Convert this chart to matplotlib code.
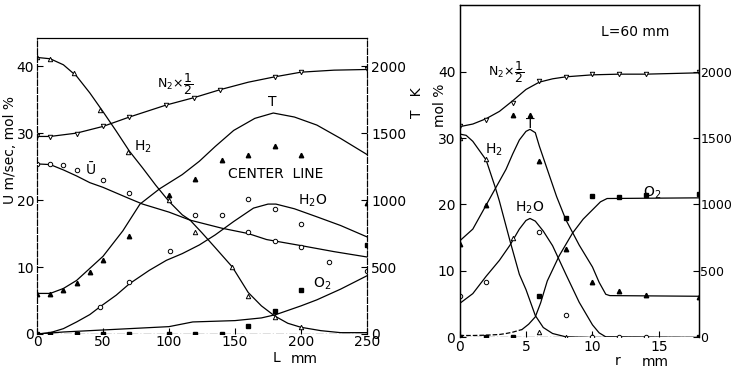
import numpy as np
import matplotlib
matplotlib.use("Agg")
import matplotlib.pyplot as plt

plt.rcParams['font.family'] = ['DejaVu Sans']
plt.rcParams['mathtext.default'] = 'regular'
plt.rcParams['font.size'] = 10

# ---- left panel: centre line, L mm ----
# curves
h2_L = [0, 10, 20, 30, 40, 50, 60, 70, 80, 90, 100, 110, 116, 125, 135, 148, 160, 170, 180, 190, 200, 215, 230, 250]
h2_v = [41.3, 41.1, 40.2, 38.5, 36.0, 33.2, 30.3, 27.3, 24.8, 22.2, 19.8, 17.8, 17.0, 15.1, 12.9, 10.0, 6.2, 4.2, 2.7, 1.6, 1.0, 0.5, 0.2, 0.2]
n2_L = [0, 10, 30, 50, 70, 98, 119, 139, 160, 180, 200, 225, 250]
n2_v = [29.5, 29.5, 30.0, 31.0, 32.4, 34.2, 35.3, 36.5, 37.6, 38.4, 39.1, 39.4, 39.5]
u_L = [0, 10, 20, 30, 40, 50, 69, 80, 100, 116, 140, 160, 174, 200, 225, 250]
u_v = [25.4, 25.3, 24.5, 23.6, 22.6, 21.9, 20.3, 19.4, 18.2, 17.0, 15.8, 15.0, 14.1, 13.2, 12.3, 11.5]
h2o_L = [0, 10, 20, 30, 40, 48, 60, 70, 85, 98, 110, 123, 135, 149, 164, 175, 181, 195, 212, 230, 250]
h2o_v = [0, 0.2, 0.8, 1.8, 2.9, 4.1, 5.8, 7.5, 9.5, 11.0, 12.0, 13.3, 14.8, 16.8, 18.8, 19.4, 19.4, 18.7, 17.5, 16.2, 14.5]
o2_L = [0, 20, 50, 100, 118, 150, 170, 181, 200, 212, 230, 250]
o2_v = [0, 0.3, 0.6, 1.1, 1.8, 2.0, 2.4, 2.9, 4.2, 5.1, 6.7, 8.7]
t_L = [0, 10, 20, 30, 40, 50, 65, 78, 93, 110, 123, 135, 149, 165, 179, 195, 212, 230, 250]
t_K = [303, 303, 340, 400, 490, 580, 770, 970, 1085, 1190, 1290, 1400, 1520, 1610, 1650, 1620, 1560, 1460, 1340]

# measured points
h2_pL = [0, 10, 28, 48, 69, 100, 120, 148, 160, 180, 200]
h2_pv = [41.3, 41.1, 39.0, 33.5, 27.2, 20.0, 15.2, 10.0, 5.6, 2.6, 1.1]
n2_pL = [0, 10, 30, 50, 70, 98, 119, 139, 180, 200, 250]
n2_pv = [29.5, 29.4, 29.9, 31.0, 32.4, 34.2, 35.3, 36.5, 38.4, 39.1, 39.6]
u_pL = [0, 10, 20, 30, 50, 70, 120, 140, 160, 180, 200]
u_pv = [25.4, 25.4, 25.2, 24.5, 23.0, 21.1, 17.8, 17.8, 15.3, 13.9, 13.0]
h2o_pL = [48, 70, 101, 160, 180, 200, 221, 250]
h2o_pv = [4.1, 7.8, 12.4, 20.2, 18.6, 16.5, 10.8, 9.4]
o2_pL = [0, 10, 30, 50, 70, 100, 120, 140, 160, 180, 200, 250]
o2_pv = [0, 0, 0, 0, 0, 0, 0, 0, 1.2, 3.4, 6.6, 13.3]
t_pL = [0, 10, 20, 30, 40, 50, 70, 100, 120, 140, 160, 180, 200, 250]
t_pK = [300, 300, 330, 380, 460, 555, 730, 1035, 1160, 1300, 1340, 1405, 1340, 975]

# ---- right panel: L = 60 mm, r mm ----
rn2_r = [0, 1, 2, 3, 4, 5, 6, 7, 8, 10, 12, 14, 18]
rn2_v = [31.7, 32.1, 32.9, 34.0, 35.6, 37.3, 38.4, 38.9, 39.2, 39.5, 39.6, 39.6, 39.8]
rt_r = [0, 1, 2, 3, 3.5, 4, 4.5, 5, 5.3, 5.7, 6, 6.7, 7.3, 8, 9, 10, 10.5, 11, 11.3, 18]
rt_K = [725, 815, 995, 1175, 1265, 1380, 1485, 1550, 1565, 1540, 1440, 1235, 1060, 885, 695, 530, 415, 325, 315, 310]
rh2_r = [0, 0.5, 1, 2, 2.7, 3, 3.8, 4.5, 5, 5.7, 6.3, 7, 8, 10, 18]
rh2_v = [30.6, 30.4, 29.5, 26.7, 22.5, 20.5, 14.5, 9.5, 7.2, 3.3, 1.5, 0.6, 0.1, 0, 0]
rh2o_r = [0, 1, 2, 3, 3.8, 4.5, 5, 5.3, 5.7, 6.3, 7, 8, 9, 10, 10.5, 11, 18]
rh2o_v = [5.1, 6.6, 9.2, 11.6, 13.9, 16.3, 17.6, 17.9, 17.5, 16.0, 13.8, 9.5, 5.3, 1.9, 0.7, 0.1, 0]
ro2_r = [0, 1, 2, 3, 3.5, 4, 4.7, 5.2, 5.7, 6.1, 6.6, 7.5, 8.5, 9.3, 10, 10.6, 11.1, 18]
ro2_v = [0.3, 0.3, 0.35, 0.45, 0.6, 0.8, 1.2, 2.0, 3.1, 5.2, 8.5, 12.3, 15.7, 17.8, 19.2, 20.4, 20.9, 21.0]

rn2_pr = [0, 2, 4, 6, 8, 10, 12, 14, 18]
rn2_pv = [31.8, 32.7, 35.3, 38.6, 39.2, 39.6, 39.6, 39.6, 39.9]
rt_pr = [0, 2, 4, 5.3, 6, 8, 10, 12, 14, 18]
rt_pK = [705, 995, 1675, 1675, 1325, 665, 420, 350, 320, 305]
rh2_pr = [0, 2, 4, 6, 8, 10]
rh2_pv = [30.0, 26.8, 14.9, 0.9, 0, 0.2]
rh2o_pr = [0, 2, 6, 8, 10, 12, 14]
rh2o_pv = [6.3, 8.4, 15.9, 3.4, 0, 0, 0]
ro2_pr = [0, 2, 4, 6, 8, 10, 12, 14, 18, 18]
ro2_pv = [0, 0, 0, 6.2, 17.9, 21.3, 21.2, 21.5, 21.6, 0]

lk = dict(color='black', lw=0.9)
ms = 3.2

fig = plt.figure(figsize=(7.33, 3.68), dpi=100)

# left panel
ax = fig.add_axes([0.0505, 0.0924, 0.4502, 0.8043])
axt = ax.twinx()
ax.set_xlim(0, 250)
ax.set_ylim(0, 44.2)
axt.set_ylim(0, 44.2 * 50)

ax.plot(h2_L, h2_v, **lk)
ax.plot(n2_L, n2_v, **lk)
ax.plot(u_L, u_v, **lk)
ax.plot(h2o_L, h2o_v, **lk)
ax.plot(o2_L, o2_v, **lk)
axt.plot(t_L, t_K, **lk)
ax.axhline(0, color='black', lw=0.9, ls='-.')

ax.plot(h2_pL, h2_pv, '^', ms=ms, mfc='white', mec='black', mew=0.7)
ax.plot(n2_pL, n2_pv, 'v', ms=ms, mfc='white', mec='black', mew=0.7)
ax.plot(u_pL, u_pv, 'o', ms=ms, mfc='white', mec='black', mew=0.7)
ax.plot(h2o_pL, h2o_pv, 'o', ms=ms, mfc='white', mec='black', mew=0.7)
ax.plot(o2_pL, o2_pv, 's', ms=ms, color='black')
axt.plot(t_pL, t_pK, '^', ms=ms, color='black')

ax.set_xticks([0, 50, 100, 150, 200, 250])
ax.set_yticks([0, 10, 20, 30, 40])
axt.set_yticks([0, 500, 1000, 1500, 2000])
ax.tick_params(direction='in', length=4, width=0.8, pad=2, labelsize=10)
ax.tick_params(axis='x', pad=0.5)
axt.tick_params(direction='in', length=4, width=0.8, pad=3, labelsize=10)
for a in (ax, axt):
    a.spines['bottom'].set_visible(False)
    a.spines['left'].set_linestyle((0, (5, 2)))
    a.spines['right'].set_linestyle((0, (5, 2)))
    for s in a.spines.values():
        s.set_linewidth(0.8)

ax.text(105, 37.3, r'$N_2\!\times\!\dfrac{1}{2}$', ha='center', va='center', fontsize=9)
ax.text(178, 34.7, 'T', ha='center', va='center', fontsize=10)
ax.text(80, 28.0, r'$H_2$', ha='center', va='center', fontsize=10)
ax.text(41, 24.5, 'Ū', ha='center', va='center', fontsize=10)
ax.text(181, 23.9, 'CENTER  LINE', ha='center', va='center', fontsize=10)
ax.text(209, 19.9, r'$H_2O$', ha='center', va='center', fontsize=10)
ax.text(216, 7.5, r'$O_2$', ha='center', va='center', fontsize=10)

fig.text(10 / 733, 1 - 150 / 368, 'U m/sec, mol %', rotation=90, ha='center', va='center', fontsize=10)
fig.text(417 / 733, 1 - 103 / 368, 'T   K', rotation=90, ha='center', va='center', fontsize=10)
fig.text(276 / 733, 1 - 358 / 368, 'L', ha='center', va='center', fontsize=10)
fig.text(304 / 733, 1 - 359 / 368, 'mm', ha='center', va='center', fontsize=10)

# right panel
bx = fig.add_axes([0.6269, 0.0829, 0.3265, 0.9035])
bxt = bx.twinx()
bx.set_xlim(0, 18)
bx.set_ylim(0, 50)
bxt.set_ylim(0, 2500)

bx.plot(rn2_r, rn2_v, **lk)
bx.plot(rh2_r, rh2_v, **lk)
bx.plot(rh2o_r, rh2o_v, **lk)
bx.plot(ro2_r[:7], ro2_v[:7], color='black', lw=0.9, ls='--')
bx.plot(ro2_r[6:], ro2_v[6:], **lk)
bxt.plot(rt_r, rt_K, **lk)
bx.axhline(0, color='black', lw=0.9, ls='-.')

bx.plot(rn2_pr, rn2_pv, 'v', ms=ms, mfc='white', mec='black', mew=0.7)
bx.plot(rh2_pr, rh2_pv, '^', ms=ms, mfc='white', mec='black', mew=0.7)
bx.plot(rh2o_pr, rh2o_pv, 'o', ms=ms, mfc='white', mec='black', mew=0.7)
bx.plot(ro2_pr, ro2_pv, 's', ms=ms, color='black')
bxt.plot(rt_pr, rt_pK, '^', ms=ms, color='black')

bx.set_xticks([0, 5, 10, 15])
bx.set_yticks([0, 10, 20, 30, 40])
bxt.set_yticks([0, 500, 1000, 1500, 2000])
bx.tick_params(direction='in', length=4, width=0.8, pad=3, labelsize=10)
bx.tick_params(axis='x', pad=1.5)
bxt.tick_params(direction='in', length=4, width=0.8, pad=1, labelsize=9)
for a in (bx, bxt):
    a.spines['bottom'].set_visible(False)
    for s in a.spines.values():
        s.set_linewidth(0.9)

bx.text(13.2, 45.9, 'L=60 mm', ha='center', va='center', fontsize=10)
bx.text(3.5, 39.9, r'$N_2\!\times\!\dfrac{1}{2}$', ha='center', va='center', fontsize=9)
bx.text(2.6, 28.3, r'$H_2$', ha='center', va='center', fontsize=10)
bx.text(5.3, 32.1, 'T', ha='center', va='center', fontsize=10)
bx.text(5.3, 19.5, r'$H_2O$', ha='center', va='center', fontsize=10)
bx.text(14.5, 21.8, r'$O_2$', ha='center', va='center', fontsize=10)

fig.text(440 / 733, 1 - 105 / 368, 'mol %', rotation=90, ha='center', va='center', fontsize=10)
fig.text(618 / 733, 1 - 361 / 368, 'r', ha='center', va='center', fontsize=10)
fig.text(655 / 733, 1 - 362 / 368, 'mm', ha='center', va='center', fontsize=10)

fig.savefig('out.png', dpi=100)
